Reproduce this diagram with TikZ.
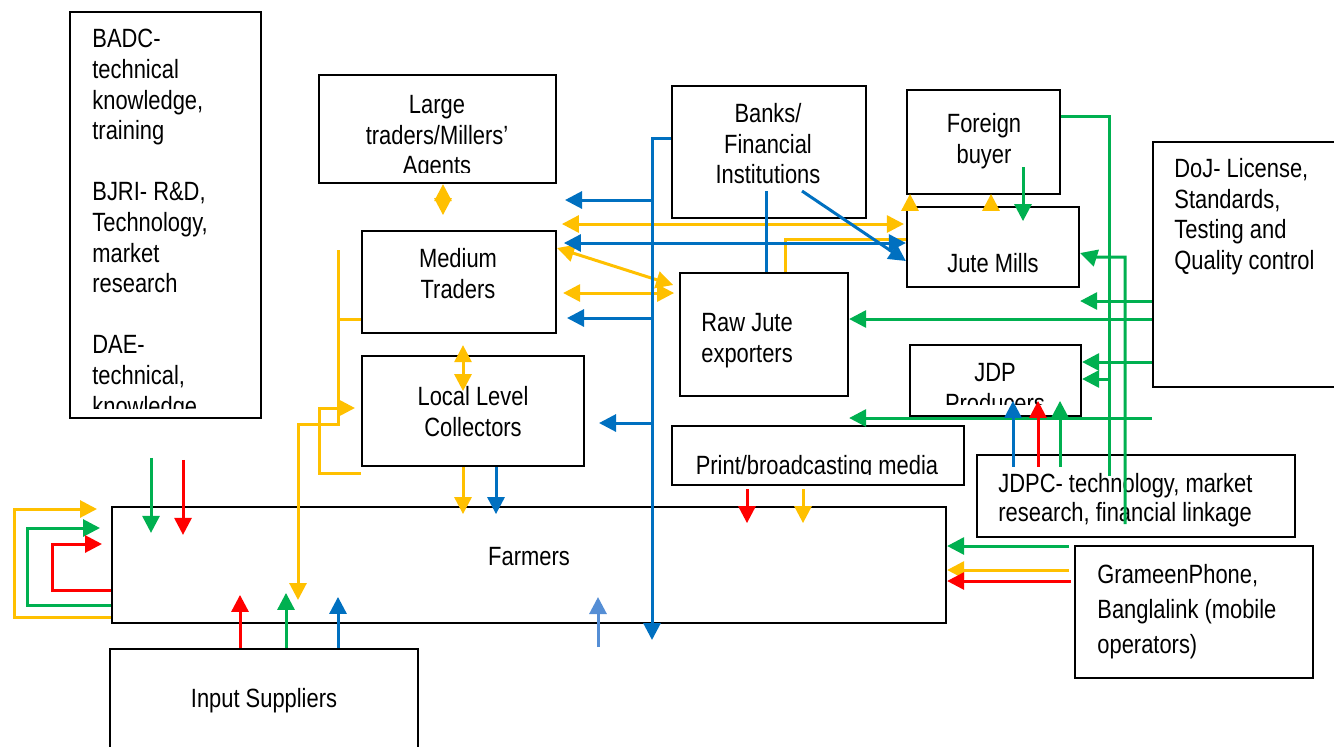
\documentclass[tikz,border=0pt]{standalone}
\usepackage{fontspec}
\setmainfont{Liberation Sans}[FakeStretch=0.83]
\usepackage{tikz}
\usetikzlibrary{arrows.meta,positioning,fit}
\definecolor{jyellow}{HTML}{FFC000}
\definecolor{jgreen}{HTML}{00B050}
\definecolor{jred}{HTML}{FF0000}
\definecolor{jblue}{HTML}{0070C0}
\definecolor{jlblue}{HTML}{558ED5}

\begin{document}
\begin{tikzpicture}[x=0.5pt,y=-0.5pt]
    \tikzset{box/.style = {draw,line width=1.1pt,inner sep=0pt}}
    \tikzset{txt/.style = {inner sep=0pt,align=center,font=\fontsize{13.2}{15.3}\selectfont}}
    \tikzset{edge/.style = {line width=1.5pt,-{Triangle[length=8.5pt,width=8.5pt]}}}
    \tikzset{both/.style = {line width=1.5pt,{Triangle[length=8.5pt,width=8.5pt]}-{Triangle[length=8.5pt,width=8.5pt]}}}
    \tikzset{line/.style = {line width=1.5pt}}
    \useasboundingbox (0,0) rectangle (1334,746);
    % vertices
    \node[box,fit={(70,12) (261,418)}] (badc) {};
    \node[box,fit={(319,75) (556,183)}] (large) {};
    \node[box,fit={(362,231) (556,333)}] (med) {};
    \node[box,fit={(362,356) (584,466)}] (llc) {};
    \node[box,fit={(672,86) (866,218)}] (bank) {};
    \node[box,fit={(907,90) (1060,194)}] (fbuy) {};
    \node[box,fit={(907,207) (1079,287)}] (mill) {};
    \node[box,fit={(680,273) (848,396)}] (raw) {};
    \node[box,fit={(1153,142) (1345,387)}] (doj) {};
    \node[box,fit={(910,345) (1081,416)}] (jdp) {};
    \node[box,fit={(672,426) (964,485)}] (media) {};
    \node[box,fit={(977,455) (1295,537)}] (jdpc) {};
    \node[box,fit={(112,507) (946,623)}] (farm) {};
    \node[box,fit={(1075,546) (1313,678)}] (gp) {};
    \node[box,fit={(110,649) (418,760)}] (input) {};
    % texts
    \begin{scope}
        \clip (70,12) rectangle (261,408);
        \node[txt,align=left,anchor=north west] (badcT) at (92,29) {BADC-\\technical\\knowledge,\\training\\[15.3pt]BJRI- R\&D,\\Technology,\\market\\research\\[15.3pt]DAE-\\technical,\\knowledge,};
    \end{scope}
    \begin{scope}
        \clip (319,75) rectangle (556,172);
        \node[txt,anchor=north] (largeT) at (437,95) {Large\\traders/Millers'\\Agents};
    \end{scope}
    \node[txt,anchor=north] (medT) at (458,248) {Medium\\Traders};
    \node[txt,anchor=north] (llcT) at (473,386) {Local Level\\Collectors};
    \node[txt,anchor=north] (bankT) at (768,103) {Banks/\\Financial\\Institutions};
    \node[txt,anchor=north] (fbuyT) at (984,113) {Foreign\\buyer};
    \node[txt,anchor=north] (millT) at (993,253) {Jute Mills};
    \node[txt,align=left,anchor=north west] (rawT) at (701,313) {Raw Jute\\exporters};
    \node[txt,align=left,anchor=north west] (dojT) at (1174,158) {DoJ- License,\\Standards,\\Testing and\\Quality control};
    \begin{scope}
        \clip (910,345) rectangle (1081,404);
        \node[txt,anchor=north] (jdpT) at (995,363) {JDP\\Producers};
    \end{scope}
    \begin{scope}
        \clip (672,426) rectangle (964,474);
        \node[txt,anchor=north] (mediaT) at (817,455) {Print/broadcasting media};
    \end{scope}
    \node[txt,align=left,anchor=north west,font=\fontsize{13.2}{14.5}\selectfont] (jdpcT) at (998,473) {JDPC- technology, market\\research, financial linkage};
    \node[txt,anchor=north] (farmT) at (529,547) {Farmers};
    \node[txt,align=left,anchor=north west,font=\fontsize{13.2}{17.5}\selectfont] (gpT) at (1097,564) {GrameenPhone,\\Banglalink (mobile\\operators)};
    \node[txt,anchor=north] (inputT) at (264,688) {Input Suppliers};
    % yellow edges
    \draw[both,jyellow] (443,0 |- large.south) -- ++(0,31);
    \draw[both,jyellow] (463,0 |- med.south) ++(0,11) -- ++(0,46);
    \draw[both,jyellow] (mill.west |- 0,224) ++(-2,0) -- ++(-342,0);
    \draw[both,jyellow] (med.east |- 0,248) -- ++(116,37);
    \draw[both,jyellow] (med.east |- 0,293) ++(6,0) -- ++(111,0);
    \draw[line,jyellow] (785,0 |- raw.north) |- (mill.west |- 0,239);
    \draw[edge,jyellow] (910,0 |- mill.north) -- ++(0,-12);
    \draw[edge,jyellow] (991,0 |- mill.north) -- ++(0,-12);
    \draw[line,jyellow] (med.west |- 0,319) -- ++(-24,0);
    \draw[edge,jyellow] (338,250) |- (298,424) -- ++(0,176);
    \draw[edge,jyellow] (llc.west |- 0,473) -| (319,408) -- ++(36,0);
    \draw[edge,jyellow] (463,0 |- llc.south) -- ++(0,47);
    \draw[edge,jyellow] (803,0 |- media.south) ++(0,3) -- ++(0,34);
    \draw[edge,jyellow] (gp.west |- 0,570) ++(-5,0) -- (farm.east |- 0,570);
    \draw[edge,jyellow] (farm.west |- 0,617) -| (14,509) -- ++(83,0);
    % green edges
    \draw[edge,jgreen] (farm.west |- 0,605) -| (27,528) -- ++(73,0);
    \draw[edge,jgreen] (151,0 |- farm.north) ++(0,-48) -- ++(0,75);
    \draw[edge,jgreen] (286,0 |- input.north) -- ++(0,-55);
    \draw[edge,jgreen] (1023,0 |- fbuy.south) ++(0,-28) -- ++(0,54);
    \draw[line,jgreen] (fbuy.east |- 0,116) -| (1109,476);
    \draw[edge,jgreen] (1109,379) -- (jdp.east |- 0,379);
    \draw[edge,jgreen] (1125,524) |- (1093,257) -- (mill.east |- 0,253);
    \draw[edge,jgreen] (doj.west |- 0,301) -- (mill.east |- 0,301);
    \draw[edge,jgreen] (doj.west |- 0,319) -- (raw.east |- 0,319);
    \draw[edge,jgreen] (doj.west |- 0,362) -- (jdp.east |- 0,362);
    \draw[edge,jgreen] (doj.west |- 0,418) -- (raw.east |- 0,418);
    \draw[edge,jgreen] (1060,0 |- jdpc.north) ++(0,13) -- ++(0,-66);
    \draw[edge,jgreen] (gp.west |- 0,546) ++(-5,0) -- (farm.east |- 0,546);
    % red edges
    \draw[edge,jred] (farm.west |- 0,590) -| (52,544) -- ++(50,0);
    \draw[edge,jred] (183,0 |- farm.north) ++(0,-46) -- ++(0,75);
    \draw[edge,jred] (240,0 |- input.north) -- ++(0,-53);
    \draw[edge,jred] (747,0 |- media.south) ++(0,3) -- ++(0,34);
    \draw[edge,jred] (1038,0 |- jdpc.north) ++(0,13) -- ++(0,-66);
    \draw[edge,jred] (gp.west |- 0,581) ++(-3,0) -- (farm.east |- 0,581);
    % blue edges
    \draw[edge,jblue] (bank.west |- 0,138) -| (652,640);
    \draw[edge,jblue] (652,200) -- ++(-87,0);
    \draw[edge,jblue] (652,318) -- ++(-85,0);
    \draw[edge,jblue] (652,423) -- ++(-53,0);
    \draw[both,jblue] (mill.west |- 0,243) -- ++(-342,0);
    \draw[edge,jblue] (802,191) -- (mill.west |- 0,261);
    \draw[line,jblue] (766,191) -- (766,0 |- raw.north);
    \draw[edge,jblue] (496,0 |- llc.south) -- ++(0,47);
    \draw[edge,jblue] (1013,0 |- jdpc.north) ++(0,13) -- ++(0,-66);
    \draw[edge,jblue] (338,0 |- input.north) -- ++(0,-51);
    \draw[edge,jlblue] (598,647) -- ++(0,-50);
\end{tikzpicture}
\end{document}
